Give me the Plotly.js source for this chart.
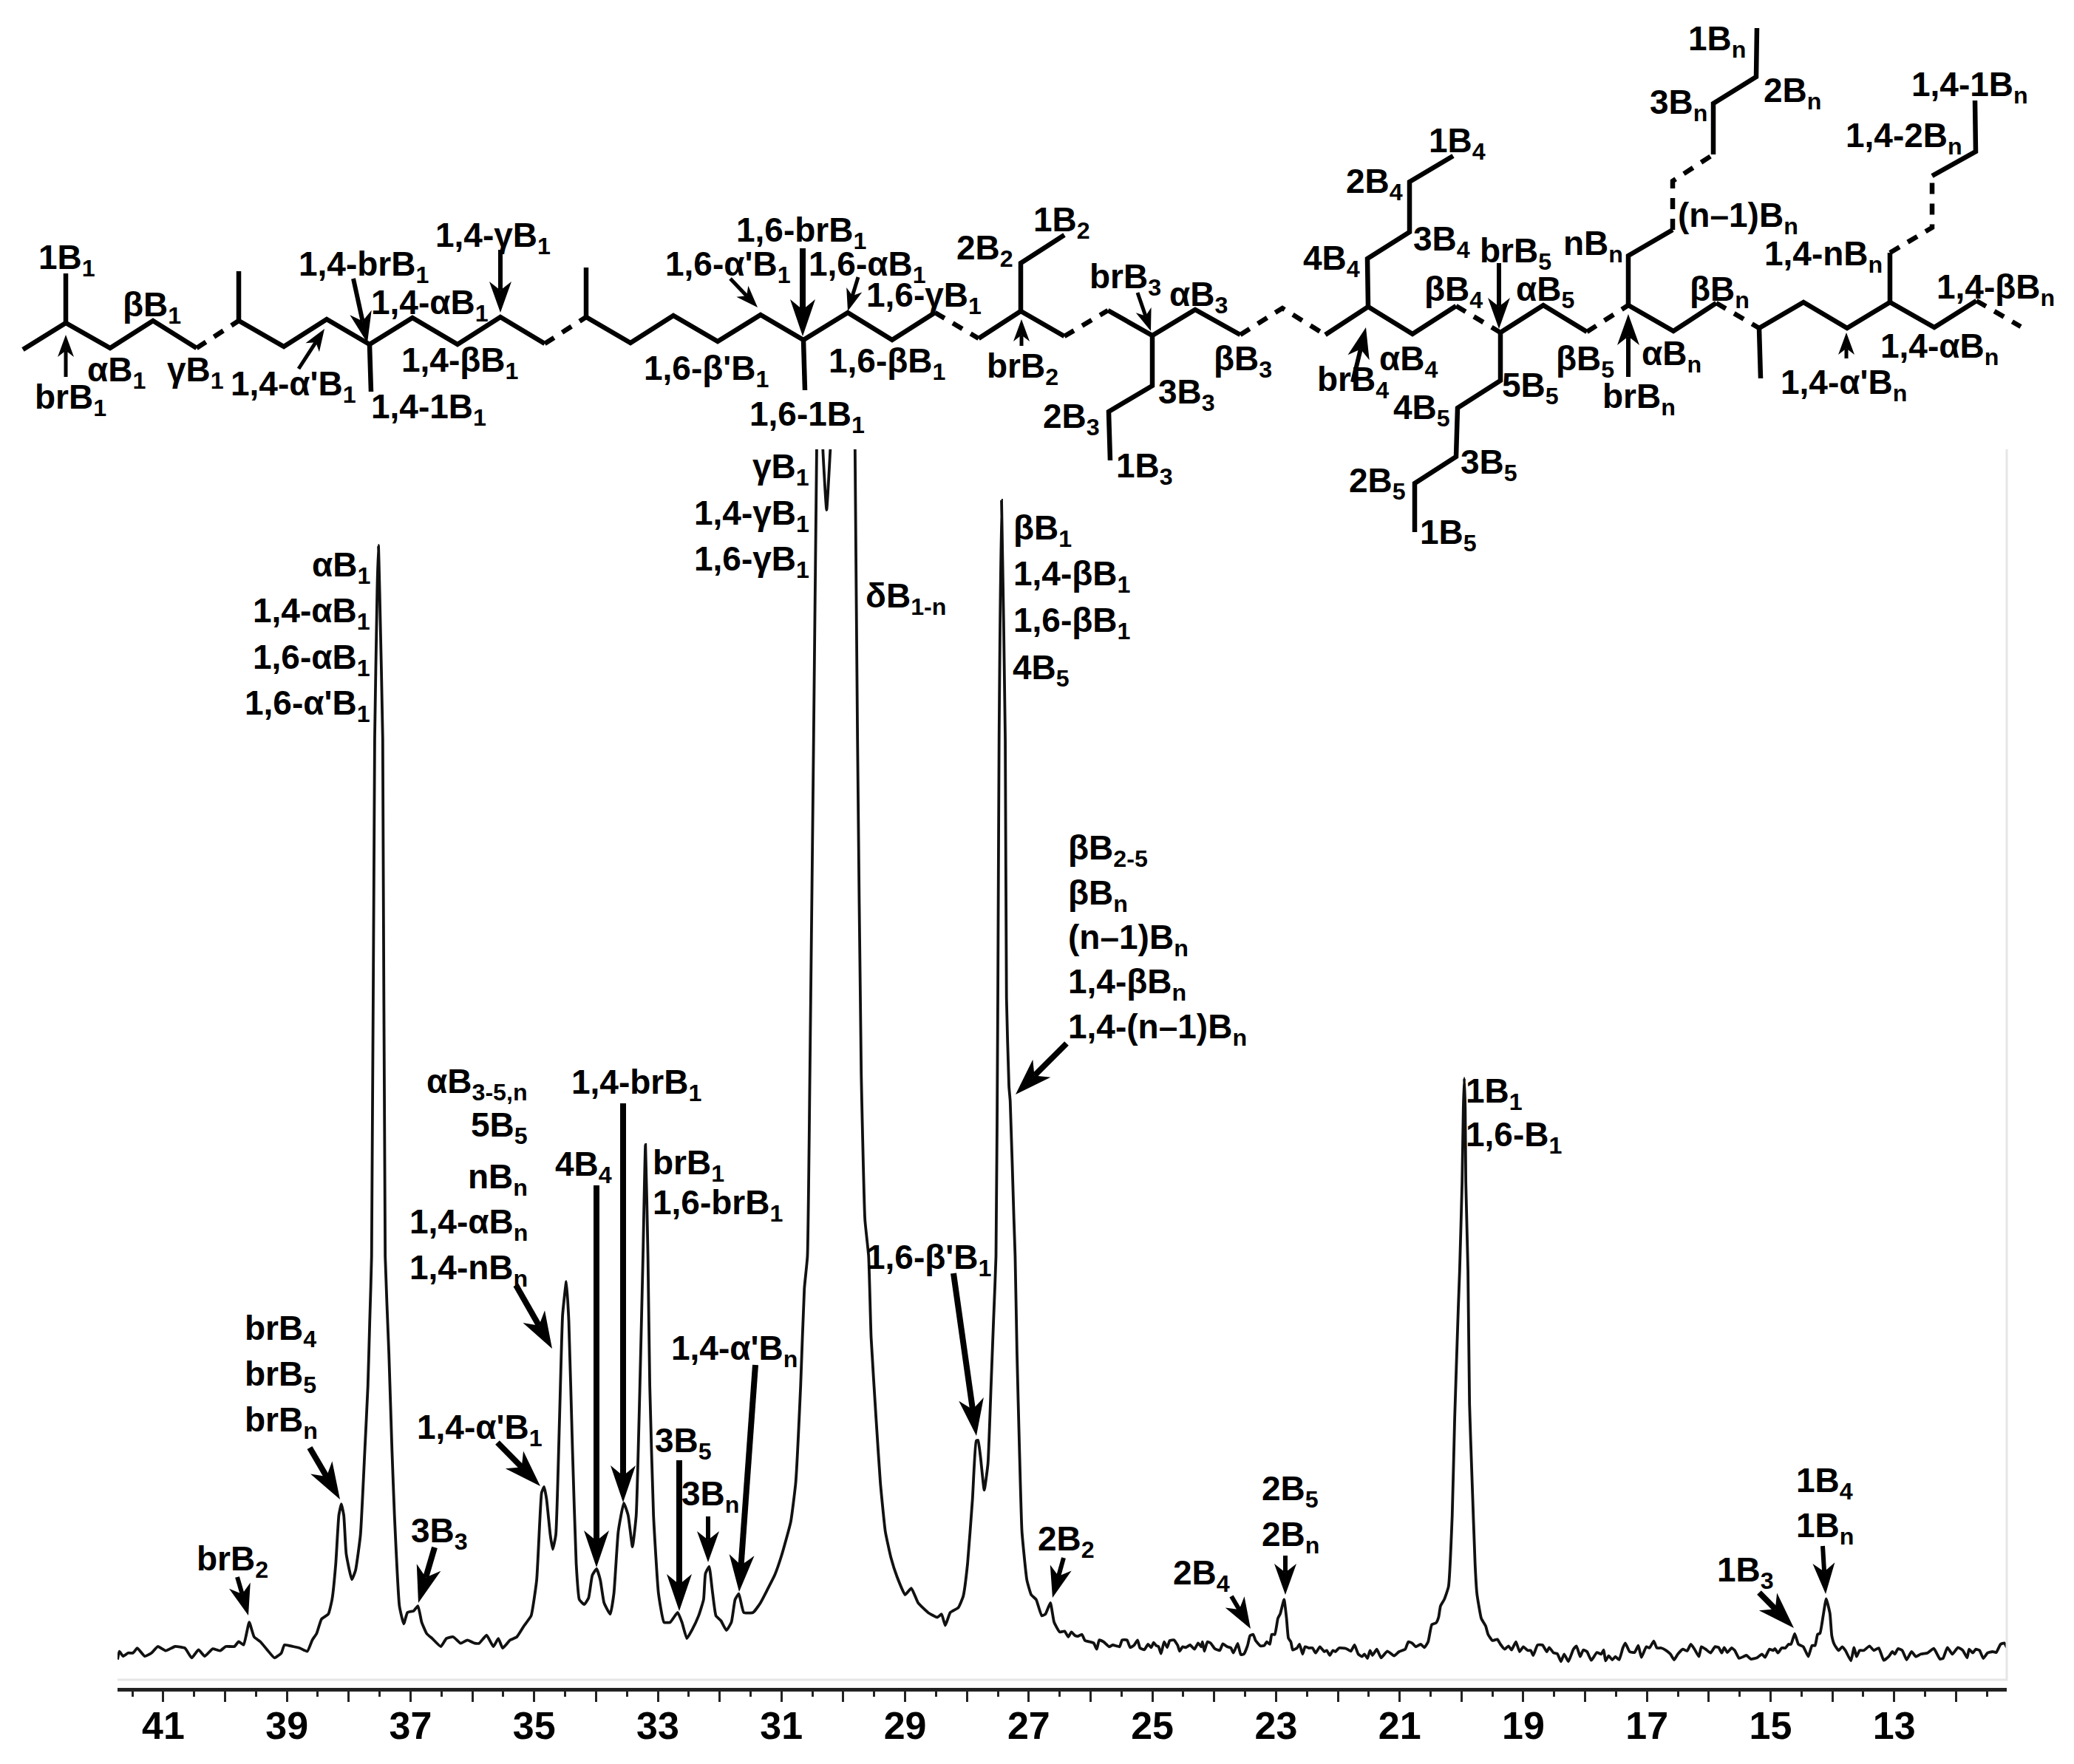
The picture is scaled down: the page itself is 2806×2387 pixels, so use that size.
<!DOCTYPE html>
<html><head><meta charset="utf-8">
<script src="https://cdn.plot.ly/plotly-3.0.1.min.js"></script>
<style>html,body{margin:0;padding:0;background:#fff}</style></head>
<body><div id="chart" style="width:2806px;height:2387px"></div>
<script>
// ---------- spectrum data: chemical shift (ppm) and intensity (a.u.) ----------
const shift = [41.74,41.71,41.65,41.57,41.49,41.42,41.30,41.19,41.09,40.96,40.81,40.65,40.54,40.43,40.33,40.20,40.08,39.99,39.85,39.78,39.70,39.61,39.53,39.43,39.32,39.20,39.09,39.04,38.90,38.79,38.67,38.59,38.52,38.44,38.33,38.27,38.21,38.16,38.12,38.08,38.04,37.95,37.89,37.81,37.74,37.69,37.66,37.63,37.58,37.54,37.52,37.50,37.45,37.41,37.35,37.30,37.26,37.18,37.11,37.05,36.95,36.88,36.82,36.74,36.65,36.51,36.42,36.31,36.19,36.08,35.96,35.89,35.77,35.66,35.58,35.51,35.39,35.28,35.16,35.05,34.96,34.91,34.88,34.84,34.80,34.74,34.70,34.65,34.59,34.54,34.48,34.44,34.38,34.32,34.27,34.19,34.12,34.06,33.99,33.93,33.87,33.77,33.71,33.64,33.55,33.48,33.41,33.35,33.29,33.24,33.20,33.16,33.13,33.07,32.99,32.90,32.80,32.68,32.61,32.53,32.45,32.34,32.26,32.23,32.17,32.12,32.06,31.98,31.89,31.81,31.75,31.69,31.61,31.46,31.34,31.23,31.11,31.00,30.85,30.77,30.69,30.63,30.58,30.54,30.48,30.43,30.40,30.36,30.33,30.27,30.21,30.00,29.85,29.81,29.77,29.71,29.65,29.59,29.55,29.47,29.40,29.32,29.23,29.13,29.00,28.90,28.79,28.63,28.48,28.41,28.35,28.27,28.14,28.06,27.99,27.91,27.85,27.82,27.78,27.72,27.66,27.61,27.57,27.53,27.50,27.48,27.44,27.38,27.36,27.32,27.30,27.24,27.22,27.19,27.15,27.11,27.03,26.96,26.88,26.79,26.73,26.65,26.59,26.50,
 26.42,26.36,26.31,26.25,26.20,26.14,26.09,26.01,25.95,25.90,25.86,25.79,25.70,25.64,25.58,25.53,25.49,25.41,25.36,25.30,25.24,25.20,25.13,25.07,25.02,24.98,24.94,24.90,24.86,24.81,24.76,24.72,24.65,24.59,24.56,24.51,24.46,24.39,24.32,24.26,24.21,24.19,24.16,24.11,24.06,23.99,23.91,23.86,23.79,23.73,23.69,23.62,23.57,23.52,23.46,23.42,23.37,23.33,23.25,23.19,23.15,23.10,23.07,23.02,22.97,22.93,22.87,22.83,22.80,22.76,22.73,22.66,22.62,22.57,22.53,22.47,22.41,22.36,22.29,22.22,22.18,22.13,22.08,22.04,21.98,21.87,21.79,21.73,21.67,21.61,21.57,21.52,21.48,21.44,21.37,21.30,21.20,21.09,21.01,20.91,20.86,20.80,20.74,20.66,20.60,20.54,20.48,20.41,20.37,20.34,
 20.28,20.21,20.15,20.11,20.05,20.03,19.99,19.97,19.955,19.94,19.93,19.895,19.87,19.83,19.78,19.75,19.68,
 19.61,19.57,19.50,19.42,19.37,19.30,19.24,19.19,19.12,19.06,19.00,18.93,18.88,18.84,18.77,18.69,18.62,18.58,18.51,18.45,18.39,18.34,18.27,18.19,18.14,18.08,18.03,17.97,17.90,17.81,17.74,17.70,17.67,17.62,17.56,17.51,17.45,17.39,17.35,17.28,17.20,17.14,17.09,17.01,16.96,16.89,16.84,16.77,16.69,16.62,16.56,16.50,16.42,16.35,16.29,16.23,16.16,16.12,16.05,15.97,15.90,15.84,15.79,15.75,15.70,15.63,15.58,15.51,15.44,15.39,15.32,15.22,15.14,15.09,15.02,14.96,14.93,14.88,14.82,14.76,14.71,14.67,14.61,14.55,14.47,14.39,14.33,14.28,14.24,14.20,14.15,14.10,14.04,14.01,13.97,13.90,13.84,13.79,13.70,13.65,13.61,13.56,13.49,13.40,13.33,13.25,13.17,13.09,13.03,12.99,12.94,12.87,12.80,12.72,12.65,12.57,12.46,12.36,12.26,12.21,12.14,12.06,11.97,11.89,11.82,11.79,11.73,11.68,11.62,11.56,11.49,11.41,11.35,11.28,11.22,11.18];
const intensity = [-10.6,0.4,-6.2,-1.8,-1.8,4.8,-6.2,-1.8,7,1.3,7,4.8,-8.4,2.6,-6.2,3.9,1.3,7,7,13.5,9.2,39.8,20,13.5,2.6,-8.4,-1.8,9.2,7,4.8,0.4,15.7,24.5,44.2,50.8,70.5,118.7,184.4,199.8,184.4,131.9,97.7,110,158.2,272,359.7,447.4,535,1235,1435,1497,1435,1235,535,403.5,272,184.4,61.8,37.6,53,55.2,61.8,39.8,24.5,17.9,7,17.9,20,11.3,15.7,11.3,11.3,22.3,7,17.9,4.8,15.7,20,35.5,48.6,96.8,175.7,215.1,223,206.4,158.2,138.4,158.2,315.9,456.1,500.8,447.4,272,118.7,70.5,63.9,72.7,103.4,112.1,96.8,66.1,50.8,79.3,162.5,201.1,184.4,141.9,184.4,359.7,535,686,535,359.7,184.4,79.3,39.8,39.8,53,39.8,17.9,28.9,48.6,70.5,105.6,115.2,83.6,48.6,42,28.9,39.8,70.5,78.4,53,53,66.1,83.6,103.4,129.7,175.7,228.3,359.7,491.2,535,785,1235,1627,1750,1750,1627,1545,1627,1950,1950,1627,1235,785,585,535,425.4,315.9,228.3,162.5,127.5,101.2,77,85.8,66.1,53,46.4,50.8,35.5,53,59.6,74.9,118.7,206.4,285.2,286.1,263.3,218.6,254.5,359.7,447.4,535,885,1235,1558,1235,885,765,745,585,535,403.5,272,162.5,96.8,77,70.5,48.6,50.8,66.1,39.8,26.7,
 27.7,20,26.7,21.7,21,23.3,15,13.3,11.7,3.3,15.7,13.3,6.7,9,7.7,6.7,15.7,15.7,5.7,8.3,15.7,5,2.7,10,5.7,12.3,8.3,6.7,-2.7,13.3,5.7,15,15.7,8.3,0.7,6.7,5.7,9,3.3,11.7,6.7,13.3,0.7,13.3,11.7,4,1.7,10.7,6.7,5,-1.7,11,-4,-3.3,8.3,21.7,23.3,15,7.7,8.3,13.3,10,23.3,23.3,45,51.7,70.5,45,18.3,13.3,2.3,5,10,-3.3,6.7,5,5,-1.7,6.7,0,1.7,-5,1.7,0,5,4.3,0.7,9,-3.3,-6.7,-3.3,-9,1.7,-5,3.3,-8.3,0.7,-5.7,0,3.3,13.3,11.7,6.7,10,5.7,13.3,36.7,39,46.7,61.7,
 70.5,88,184.4,315.9,469.3,515,635,735,776,735,635,515,335,235,118.3,78.3,45,
 35,23.3,15,16.7,10,3.3,7.7,2.3,13.3,0,6.7,1.7,1.7,-5,9,9,0,5.7,-1.7,-2.7,-13.3,-3.3,-13.3,3.3,7.7,-6.7,2.3,0,-11.7,-1,-3.3,2.3,-12.3,-5.7,-11,-6.7,-11,5,11.7,0,-1,8.3,-7.7,6.7,5,14.3,5,5,1.7,-3.3,-11,-3.3,3.3,1,10,3.3,-6.7,6.7,3.3,-1.7,6.7,5.7,-1.7,5.7,-1,5,1.7,-9,-6.7,-5,-10,-8.3,-3.3,-7.7,3.3,1.7,4,-1.7,5,5,10,10,24.3,10,6.7,-6.7,8.3,8.3,23.3,25,48.3,71.7,51.7,21.7,10,1.7,6.7,1.7,-12.3,5.7,-6.7,1.7,1.7,7.7,1.7,5,-11.7,-6.7,0,-3.3,4,1.7,-11,0,-6.7,-3.3,-1.7,4.3,-10,-9,5.7,-3.3,5.7,1.7,-8.3,3.3,-1.7,3.3,1.7,-9,-1.7,0,-1,10,11.7,5.7];
const tickValues = [41,40,39,38,37,36,35,34,33,32,31,30,29,28,27,26,25,24,23,22,21,20,19,18,17,16,15,14,13,12];
const tickLabels = ["41","","39","","37","","35","","33","","31","","29","","27","","25","","23","","21","","19","","17","","15","","13",""];

// ---------- page geometry ----------
const W = 2806, H = 2387, FONT = '"Liberation Sans", Arial, sans-serif';
const PX = x => x / W, PY = y => 1 - y / H;
const pathOf = pts => pts.map((p, i) => (i ? 'L' : 'M') + PX(p[0]).toFixed(5) + ',' + PY(p[1]).toFixed(5)).join(' ');

// ---------- polymer structure sketch (page pixels) ----------
const solidBonds = [
 [[31,473],[89,437],[149,471],[207,434],[266,471]],
 [[323,434],[384,469],[442,432],[500,466],[558,430],[619,466],[677,429],[737,465]],
 [[793,429],[853,464],[911,427],[971,462],[1029,426],[1087,460],[1147,423],[1207,460],[1265,423]],
 [[1324,458],[1381,421],[1440,455]],
 [[1499,420],[1559,454],[1617,419],[1678,453]],
 [[1793,453],[1851,415],[1911,452],[1970,414]],
 [[2030,450],[2088,413],[2147,449]],
 [[2203,413],[2264,448],[2322,410]],
 [[2380,444],[2440,409],[2499,444],[2557,409],[2617,443],[2674,407]],
 [[89,437],[89,370]],[[323,434],[323,367]],[[793,429],[793,362]],
 [[500,466],[502,530]],[[1087,460],[1089,528]],
 [[1381,421],[1381,356],[1440,318]],
 [[1559,454],[1559,522],[1500,557],[1502,623]],
 [[1851,415],[1850,350],[1907,314],[1907,246],[1966,211]],
 [[2030,450],[2030,515],[1972,552],[1970,618],[1914,654],[1914,720]],
 [[2203,413],[2203,346],[2263,311]],
 [[2318,209],[2318,140],[2376,104],[2377,38]],
 [[2380,444],[2382,512]],
 [[2557,409],[2557,342]],
 [[2614,238],[2673,205],[2672,136]]
];
const dashedBonds = [
 [[266,471],[323,434]],[[737,465],[793,429]],[[1265,423],[1324,458]],
 [[1440,455],[1499,420]],[[1678,453],[1735,417],[1793,453]],
 [[1970,414],[2030,450]],[[2147,449],[2203,413]],[[2322,410],[2380,444]],
 [[2674,407],[2734,442]],
 [[2263,311],[2263,245],[2318,209]],
 [[2557,342],[2614,308],[2614,238]]
];

// ---------- arrows: [from x, from y, to x, to y, size] ----------
const arrowSizes = {s:[5,22,30], m:[6,30,42], l:[8,34,50]};
const arrowList = [
 [89,510,89,453,'s'],[478,377,497,464,'m'],[677,338,677,423,'m'],[404,499,439,445,'s'],
 [988,377,1025,416,'s'],[1086,336,1086,455,'l'],[1161,375,1147,421,'s'],[1382,468,1382,432,'s'],
 [1539,396,1557,448,'s'],[1830,517,1848,443,'m'],[2028,356,2028,445,'m'],[2203,510,2203,425,'m'],[2498,485,2498,450,'s'],
 [698,1739,747,1825,'l'],[673,1952,731,2011,'l'],[419,1959,460,2029,'l'],[321,2134,336,2186,'m'],[588,2094,566,2169,'l'],
 [807,1604,807,2121,'l'],[843,1493,843,2033,'l'],[919,1976,919,2180,'l'],[958,2052,958,2114,'m'],[1022,1847,1000,2154,'l'],
 [1290,1723,1321,1943,'l'],[1439,2108,1424,2162,'m'],[1666,2160,1692,2204,'m'],[1739,2105,1739,2158,'m'],
 [1443,1412,1374,1481,'l'],[2380,2155,2427,2203,'l'],[2466,2092,2470,2157,'m']
];

const shapes = [];
solidBonds.forEach(p => shapes.push({type:'path', xref:'paper', yref:'paper', path:pathOf(p), line:{color:'#000', width:6.5}}));
dashedBonds.forEach(p => shapes.push({type:'path', xref:'paper', yref:'paper', path:pathOf(p), line:{color:'#000', width:6.5, dash:'15px,13px'}}));
arrowList.forEach(a => {
  const [x1,y1,x2,y2,sz] = a, [w,hw,hl] = arrowSizes[sz];
  const L = Math.hypot(x2-x1,y2-y1), ux=(x2-x1)/L, uy=(y2-y1)/L, nx=-uy, ny=ux;
  const bx=x2-ux*hl, by=y2-uy*hl, mx=x2-ux*hl*0.72, my=y2-uy*hl*0.72;
  shapes.push({type:'path', xref:'paper', yref:'paper', path:pathOf([[x1,y1],[mx,my]]), line:{color:'#000', width:w}});
  shapes.push({type:'path', xref:'paper', yref:'paper', fillcolor:'#000', line:{width:0},
    path:pathOf([[x2,y2],[bx+nx*hw/2,by+ny*hw/2],[mx,my],[bx-nx*hw/2,by-ny*hw/2]])+' Z'});
});
// faint frame of the scanned spectrum
shapes.push({type:'path', xref:'paper', yref:'paper', path:pathOf([[2715,608],[2715,2273],[159,2273]]), line:{color:'#e6e6e6', width:3}});

// ---------- text labels: [text, x, y of capitals' middle, anchor] ----------
const B = (pre, sub) => pre + 'B<sub>' + sub + '</sub>';
const textLabels = [
 [B('1','1'),54,347],[B('β','1'),168,412],[B('α','1'),120,499],[B('γ','1'),228,499],[B('br','1'),49,536],
 [B('1,4-br','1'),406,356],[B('1,4-α','1'),504,408],[B('1,4-γ','1'),591,317],[B("1,4-α'",'1'),314,518],[B('1,4-β','1'),545,486],[B('1,4-1','1'),504,549],
 [B('1,6-br','1'),998,310],[B("1,6-α'",'1'),902,356],[B('1,6-α','1'),1096,356],[B('1,6-γ','1'),1174,399],[B("1,6-β'",'1'),873,497],[B('1,6-β','1'),1123,488],[B('1,6-1','1'),1016,559],
 [B('2','2'),1296,334],[B('1','2'),1400,296],[B('br','2'),1337,494],
 [B('br','3'),1476,373],[B('α','3'),1584,398],[B('β','3'),1644,485],[B('3','3'),1569,530],[B('2','3'),1413,562],[B('1','3'),1512,629],
 [B('1','4'),1935,189],[B('2','4'),1823,244],[B('3','4'),1914,323],[B('4','4'),1765,348],[B('br','4'),1784,512],[B('α','4'),1868,485],[B('β','4'),1929,391],
 [B('br','5'),2004,338],[B('α','5'),2053,391],[B('β','5'),2107,485],[B('5','5'),2034,520],[B('4','5'),1887,550],[B('3','5'),1978,624],[B('2','5'),1827,649],[B('1','5'),1923,719],
 [B('n','n'),2117,328],[B('(n–1)','n'),2272,291],[B('3','n'),2234,137],[B('2','n'),2388,122],[B('1','n'),2286,52],[B('β','n'),2288,391],[B('α','n'),2223,478],[B('br','n'),2170,535],
 [B('1,4-n','n'),2389,343],[B('1,4-2','n'),2499,182],[B('1,4-1','n'),2588,114],[B('1,4-β','n'),2622,388],[B('1,4-α','n'),2546,468],[B("1,4-α'",'n'),2411,517],
 // spectrum
 [B('γ','1'),1093,630,'right'],[B('1,4-γ','1'),1093,693,'right'],[B('1,6-γ','1'),1093,755,'right'],
 [B('α','1'),499,763,'right'],[B('1,4-α','1'),499,825,'right'],[B('1,6-α','1'),499,888,'right'],[B("1,6-α'",'1'),499,950,'right'],
 [B('δ','1-n'),1173,805],
 [B('β','1'),1373,713],[B('1,4-β','1'),1373,775],[B('1,6-β','1'),1373,838],[B('4','5'),1372,902],
 [B('β','2-5'),1447,1147],[B('β','n'),1447,1207],[B('(n–1)','n'),1447,1267],[B('1,4-β','n'),1447,1327],[B('1,4-(n–1)','n'),1447,1388],
 [B('1','1'),1985,1475],[B('1,6-','1'),1985,1534],
 [B('α','3-5,n'),712,1462,'right'],[B('5','5'),712,1521,'right'],[B('n','n'),712,1591,'right'],[B('1,4-α','n'),712,1652,'right'],[B('1,4-n','n'),712,1714,'right'],
 [B('1,4-br','1'),775,1463],[B('4','4'),753,1575],[B('br','1'),885,1572],[B('1,6-br','1'),885,1627],[B("1,4-α'",'n'),910,1823],[B("1,6-β'",'1'),1174,1700],
 [B('br','4'),333,1796],[B('br','5'),333,1858],[B('br','n'),333,1921],[B("1,4-α'",'1'),566,1930],[B('3','3'),558,2070],[B('br','2'),268,2108],
 [B('3','5'),888,1948],[B('3','n'),924,2020],[B('2','2'),1406,2081],[B('2','4'),1589,2127],[B('2','5'),1709,2013],[B('2','n'),1709,2075],
 [B('1','4'),2432,2002],[B('1','n'),2432,2063],[B('1','3'),2325,2123]
];
const annotations = textLabels.map(t => ({
  xref:'paper', yref:'paper', x:PX(t[1] + (t[3] === 'right' ? 3 : -3)), y:PY(t[2] + 4), text:t[0], showarrow:false,
  xanchor:t[3]||'left', yanchor:'middle', align:t[3]||'left', borderpad:0,
  font:{family:FONT, size:46, color:'#000', weight:'bold'}
}));

const trace = {type:'scatter', mode:'lines', x:shift, y:intensity, hoverinfo:'skip',
  line:{color:'#111', width:3.8, shape:'spline', smoothing:0.4}};

const layout = {
  width:W, height:H, showlegend:false, paper_bgcolor:'#fff', plot_bgcolor:'#fff',
  margin:{l:0,r:0,t:0,b:0},
  xaxis:{domain:[159/W,2715/W], range:[41.74,11.18], showgrid:false, zeroline:false,
    showline:true, linecolor:'#222', linewidth:5, anchor:'y',
    tickmode:'array', tickvals:tickValues, ticktext:tickLabels, ticklabelstandoff:-12,
    ticks:'outside', ticklen:14, tickwidth:3, tickcolor:'#222',
    tickfont:{family:FONT, size:52, color:'#000', weight:'bold'},
    minor:{dtick:0.5, ticks:'outside', ticklen:7, tickwidth:3, tickcolor:'#222', showgrid:false}},
  yaxis:{domain:[(H-2284)/H,(H-608)/H], range:[-49,1627], visible:false, showgrid:false, zeroline:false},
  shapes, annotations
};
Plotly.newPlot('chart',[trace],layout,{displayModeBar:false,staticPlot:true});
</script></body></html>
